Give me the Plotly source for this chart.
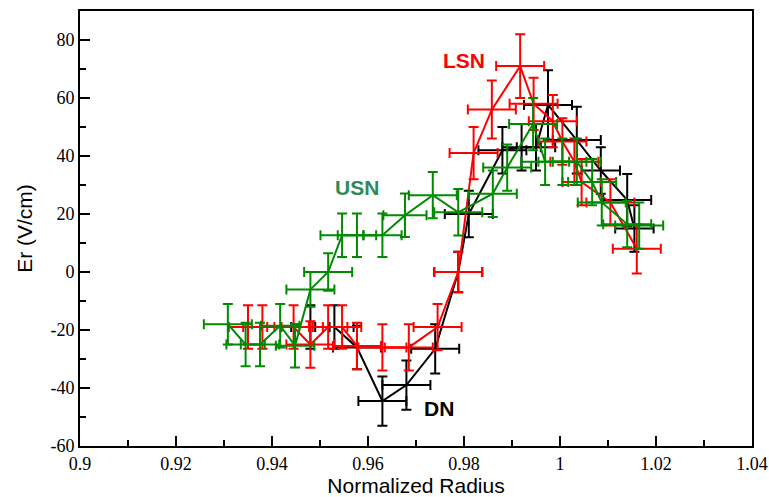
import plotly.graph_objects as go

# Radial electric field profiles for three magnetic configurations
dn_x = [0.948, 0.953, 0.9577, 0.963, 0.968, 0.974, 0.9788, 0.981, 0.988, 0.992, 0.995,
        0.9975, 1.0035, 1.0085, 1.014, 1.0155]
dn_y = [-19, -19, -26, -44.5, -39, -26.5, 0, 20, 42, 43, 43, 57.6, 45.5, 35, 24.8, 15]
dn_ex = [0.004, 0.004, 0.005, 0.005, 0.005, 0.005, 0.005, 0.005, 0.005, 0.004, 0.004,
         0.005, 0.005, 0.004, 0.005, 0.004]
dn_ey = [7.5, 7.5, 7.5, 8.5, 8.5, 8.5, 7, 8, 8, 8, 8, 12, 11.5, 8, 9, 8]

lsn_x = [0.935, 0.938, 0.9445, 0.948, 0.9517, 0.9546, 0.9577, 0.963, 0.9685, 0.9745,
         0.9788, 0.982, 0.9858, 0.9917, 0.9945, 0.9985, 1.0005, 1.003, 1.0045, 1.0105, 1.016]
lsn_y = [-19, -19, -19, -25, -19, -19, -25.5, -26, -26, -19, 0, 41, 56, 71, 58, 52, 45,
         38, 31, 24, 8]
lsn_ex = [0.004, 0.004, 0.004, 0.005, 0.004, 0.004, 0.005, 0.005, 0.005, 0.005, 0.005,
          0.005, 0.005, 0.005, 0.005, 0.005, 0.005, 0.005, 0.004, 0.005, 0.005]
lsn_ey = [7.5, 7.5, 7.5, 8, 7.5, 7.5, 8, 8, 8, 8, 7, 9, 10, 11, 9, 9, 8, 8, 8, 8, 8.5]

usn_x = [0.9308, 0.9345, 0.9375, 0.9417, 0.9448, 0.948, 0.9517, 0.9546, 0.9577, 0.963,
         0.9677, 0.9735, 0.9788, 0.986, 0.989, 0.9944, 0.9969, 1.0005, 1.0035, 1.0067,
         1.0087, 1.014, 1.0165]
usn_y = [-18, -25, -25, -18.5, -25.4, -6, 0, 12.7, 12.7, 12.7, 19.6, 26.5, 20.6, 27, 36,
         51, 38, 38, 38, 31, 24, 16.5, 16]
usn_ex = [0.005, 0.004, 0.004, 0.004, 0.004, 0.005, 0.005, 0.0045, 0.004, 0.004, 0.0045,
          0.005, 0.005, 0.005, 0.005, 0.005, 0.005, 0.005, 0.005, 0.005, 0.005, 0.005, 0.005]
usn_ey = [7, 7.5, 7.5, 7.5, 7.5, 6, 6.5, 7.5, 7.5, 7.5, 7.5, 8, 8, 8, 8, 9, 8, 8, 8, 8,
          8, 8, 8]

x_ticks = [0.9, 0.92, 0.94, 0.96, 0.98, 1.0, 1.02, 1.04]
x_tick_text = ["0.9", "0.92", "0.94", "0.96", "0.98", "1", "1.02", "1.04"]
y_ticks = [-60, -40, -20, 0, 20, 40, 60, 80]
y_tick_text = ["-60", "-40", "-20", "0", "20", "40", "60", "80"]

series = [
    ("DN", dn_x, dn_y, dn_ex, dn_ey, "#000000"),
    ("LSN", lsn_x, lsn_y, lsn_ex, lsn_ey, "#ff0000"),
    ("USN", usn_x, usn_y, usn_ex, usn_ey, "#008a00"),
]

fig = go.Figure()
for name, xs, ys, ex, ey, color in series:
    fig.add_trace(go.Scatter(
        x=xs, y=ys, mode="lines", name=name,
        line=dict(color=color, width=2),
        error_x=dict(type="data", array=ex, visible=True, color=color, thickness=2, width=5),
        error_y=dict(type="data", array=ey, visible=True, color=color, thickness=2, width=5),
        showlegend=False,
    ))

label_font = "Liberation Sans"
annotations = [
    dict(x=0.98, y=73, text="<b>LSN</b>", color="#ff0000"),
    dict(x=0.9577, y=29, text="<b>USN</b>", color="#2e8b57"),
    dict(x=0.9747, y=-47, text="<b>DN</b>", color="#000000"),
]
for a in annotations:
    fig.add_annotation(x=a["x"], y=a["y"], text=a["text"], showarrow=False,
                       font=dict(family=label_font, size=21, color=a["color"]))

axis_common = dict(
    showline=True, linecolor="black", linewidth=2, mirror=True,
    ticks="inside", ticklen=10, tickwidth=2, tickcolor="black",
    showgrid=False, zeroline=False, automargin=False,
    tickfont=dict(family="Liberation Serif", size=18, color="black"),
)

fig.update_xaxes(
    range=[0.9, 1.04], tickvals=x_ticks, ticktext=x_tick_text,
    minor=dict(ticks="inside", ticklen=6, tickwidth=2, tickcolor="black", dtick=0.01, tick0=0.9),
    title=dict(text="Normalized Radius", font=dict(family=label_font, size=21, color="black"),
               standoff=12),
    **axis_common,
)
fig.update_yaxes(
    range=[-60, 90], tickvals=y_ticks, ticktext=y_tick_text,
    minor=dict(ticks="inside", ticklen=6, tickwidth=2, tickcolor="black", dtick=10, tick0=0),
    title=dict(text="Er (V/cm)", font=dict(family=label_font, size=21, color="black"),
               standoff=12),
    **axis_common,
)

fig.update_layout(
    width=769, height=497,
    margin=dict(l=80, r=17, t=11, b=51),
    plot_bgcolor="white", paper_bgcolor="white",
)

fig.write_html("out.html")
